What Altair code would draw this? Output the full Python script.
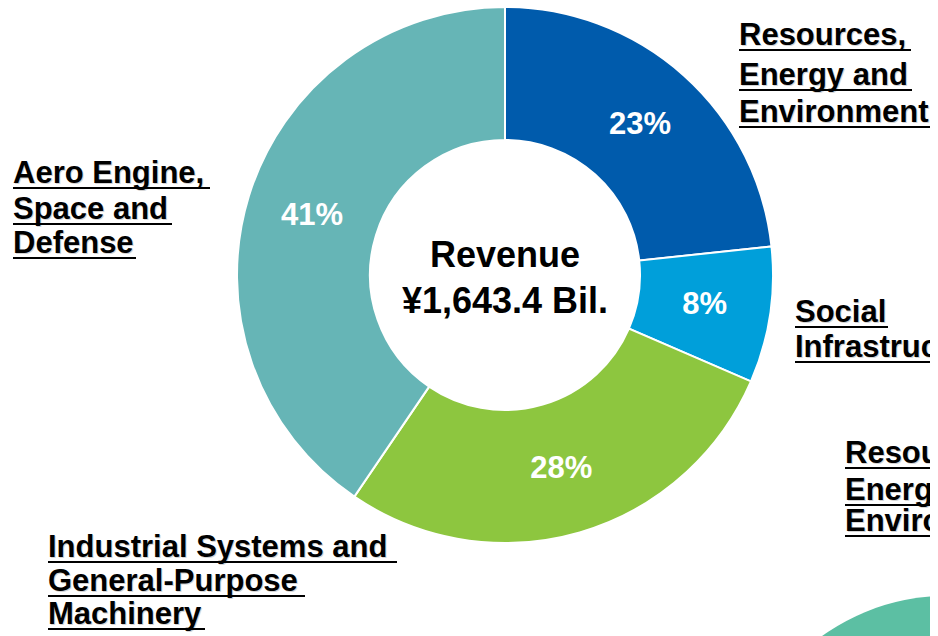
import altair as alt
import pandas as pd

# ---- data ----
segments = [
    "Resources, Energy and Environment",
    "Social Infrastructure",
    "Industrial Systems and General-Purpose Machinery",
    "Aero Engine, Space and Defense",
]
shares = [23.3, 8.2, 28.0, 40.5]
pct_labels = ["23%", "8%", "28%", "41%"]
colors = ["#005BAC", "#009FDA", "#8DC63F", "#66B5B6"]
center_lines = ["Revenue", "¥1,643.4 Bil."]

label_text = [
    "Resources,", "Energy and", "Environment",
    "Social", "Infrastructure",
    "Resources,", "Energy and", "Environment",
    "Aero Engine,", "Space and", "Defense",
    "Industrial Systems and", "General-Purpose", "Machinery",
]

# ---- layout (page pixels, chart offset 8px) ----
OFF = 8
W, H = 922, 628
cx, cy = 505 - OFF, 275 - OFF
label_x = [739, 739, 739, 795, 795, 845, 845, 845, 13, 13, 13, 48, 48, 48]
label_y = [45, 85, 122, 322, 357, 463, 500, 531, 183, 219, 253, 557, 591, 624]
label_w = [172, 173, 193, 93, 200, 172, 173, 193, 197, 159, 123, 349, 257, 157]

FONT = "Liberation Sans"

donut_df = pd.DataFrame({
    "segment": segments, "share": shares, "pct": pct_labels, "order": list(range(len(segments)))
})
lab_df = pd.DataFrame({
    "t": label_text,
    "x": [v - OFF for v in label_x],
    "y": [v - OFF for v in label_y],
    "x2": [v - OFF + w for v, w in zip(label_x, label_w)],
    "yu": [v - OFF + 5 for v in label_y],
})
center_df = pd.DataFrame({"t": center_lines, "y": [267 - OFF, 313 - OFF]})

# decorative circle (bottom right)
deco = alt.Chart(pd.DataFrame({"v": [1]})).mark_arc(
    outerRadius=212, color="#5CBFA3"
).encode(
    theta=alt.value(0), theta2=alt.value(6.2832),
    x=alt.value(946 - OFF), y=alt.value(808 - OFF),
)

base = alt.Chart(donut_df).encode(
    theta=alt.Theta("share:Q", stack=True),
    order=alt.Order("order:Q"),
)
arcs = base.mark_arc(outerRadius=268, innerRadius=135, stroke="white", strokeWidth=2).encode(
    color=alt.Color("segment:N", scale=alt.Scale(domain=segments, range=colors), legend=None),
    x=alt.value(cx), y=alt.value(cy),
)
pct = base.mark_text(radius=202, font=FONT, fontSize=31, fontWeight="bold", color="white").encode(
    text="pct:N", x=alt.value(cx), y=alt.value(cy),
)

center = alt.Chart(center_df).mark_text(
    font=FONT, fontSize=36, fontWeight="bold", color="black", baseline="alphabetic", align="center"
).encode(
    x=alt.value(cx),
    y=alt.Y("y:Q", scale=None, axis=None),
    text="t:N",
)

lab_base = alt.Chart(lab_df)
shadow = lab_base.mark_text(
    font=FONT, fontSize=31, fontWeight="bold", color="#d4d4d4", align="left", baseline="alphabetic",
    dx=1, dy=1,
).encode(
    x=alt.X("x:Q", scale=None, axis=None),
    y=alt.Y("y:Q", scale=None, axis=None),
    text="t:N",
)
labels = lab_base.mark_text(
    font=FONT, fontSize=31, fontWeight="bold", color="black", align="left", baseline="alphabetic",
).encode(
    x=alt.X("x:Q", scale=None, axis=None),
    y=alt.Y("y:Q", scale=None, axis=None),
    text="t:N",
)
underlines = lab_base.mark_rule(color="black", strokeWidth=2.2).encode(
    x=alt.X("x:Q", scale=None, axis=None),
    x2="x2:Q",
    y=alt.Y("yu:Q", scale=None, axis=None),
)

chart = alt.layer(deco, arcs, pct, center, shadow, labels, underlines).properties(
    width=W, height=H, padding=0, autosize=alt.AutoSizeParams(type="none"), background="white"
).configure_view(stroke=None)

chart.save("out.html", embed_options={"renderer": "svg", "actions": False})
